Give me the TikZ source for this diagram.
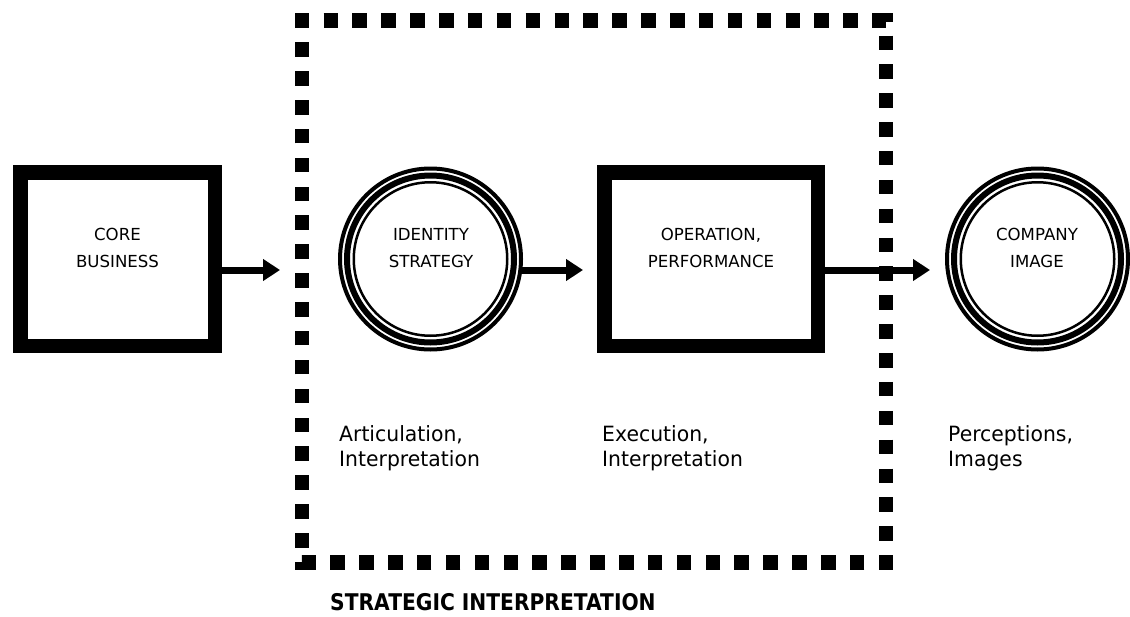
\documentclass[tikz,border=0pt]{standalone}
\usepackage{fontspec}
\setmainfont{DejaVu Sans}
\newfontfamily\notefont{DejaVu Sans}[FakeStretch=0.97]
\newfontfamily\headfont{DejaVu Sans}[FakeStretch=0.88]
\usetikzlibrary{arrows.meta}

\begin{document}
\begin{tikzpicture}[x=1pt,y=-1pt,
  blockbox/.style={draw, line width=14.5pt, minimum height=173.5pt, inner sep=0pt},
  ringnode/.style={circle, draw, line width=4pt, minimum size=181pt, inner sep=0pt},
  captext/.style={font=\fontsize{16.6}{27}\selectfont, align=center, anchor=base, inner sep=0pt},
  note/.style={font=\notefont\fontsize{21}{25}\selectfont, align=left, anchor=base west, inner sep=0pt},
  framedash/.style={line width=14.5pt, dash pattern=on 14.5pt off 14.37pt, dash phase=21.685pt},
  flow/.style={line width=7pt, -{Triangle[length=17pt,width=21pt]}}]

\fill[white] (0,0) rectangle (1130,616);
\useasboundingbox (0,0) rectangle (1130,616);

% dashed frame around the strategic part
\node[minimum width=584pt, minimum height=542pt, inner sep=0pt, outer sep=0pt] (frame) at (594,291.5) {};
\draw[framedash] ([xshift=14.43pt]frame.north west) -- (frame.north east) -- (frame.south east)
  -- (frame.south west) -- (frame.north west) -- cycle;

% boxes
\node[blockbox, minimum width=194.5pt] (core) at (117.5,259) {};
\node[blockbox, minimum width=213.5pt] (operation) at (711,259) {};

% triple-ringed circles
\node[ringnode] (identity) at (430.5,259) {};
\draw[line width=6pt] (identity.center) circle[radius=83.5];
\draw[line width=2.5pt] (identity.center) circle[radius=76.75];

\node[ringnode] (company) at (1037.5,259) {};
\draw[line width=6pt] (company.center) circle[radius=83.5];
\draw[line width=2.5pt] (company.center) circle[radius=76.75];

% labels inside shapes (base = last line)
\node[captext] (coretxt) at (117.5,267) {CORE\\BUSINESS};
\node[captext] (identtxt) at (431,267) {IDENTITY\\STRATEGY};
\node[captext] (opertxt) at (711,267) {OPERATION,\\PERFORMANCE};
\node[captext] (comptxt) at (1037,267) {COMPANY\\IMAGE};

% flow arrows
\coordinate (lane) at (0,270);
\draw[flow, shorten >=22pt] (core.east |- lane) -- (frame.west |- lane);
\draw[flow, shorten >=14pt] ([xshift=-3pt]identity.east |- lane) -- (operation.west |- lane);
\draw[flow, shorten >=15pt] (operation.east |- lane) -- (company.west |- lane);

% notes below
\node[note] (artic) at (339,466) {Articulation,\\Interpretation};
\node[note] (exec) at (602,466) {Execution,\\Interpretation};
\node[note] (perc) at (948,466) {Perceptions,\\Images};

\node[anchor=base west, inner sep=0pt, font=\headfont\bfseries\fontsize{23}{27}\selectfont] (title) at (330,610) {STRATEGIC INTERPRETATION};
\end{tikzpicture}
\end{document}
